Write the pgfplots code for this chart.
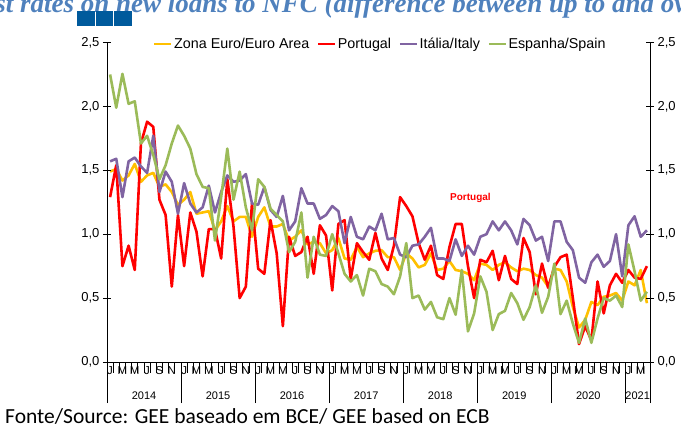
\documentclass[border=0pt]{standalone}
\usepackage{fontspec}
\setmainfont{Liberation Sans}
\newfontfamily\titlefont{Liberation Serif}
\newfontfamily\srcfont{Carlito}
\usepackage{pgfplots}
\pgfplotsset{compat=1.18}
\usepackage{pgfplotstable}

\definecolor{cEA}{RGB}{255,192,0}
\definecolor{cPT}{RGB}{255,0,0}
\definecolor{cIT}{RGB}{128,100,162}
\definecolor{cES}{RGB}{155,187,89}
\definecolor{cTitle}{RGB}{79,129,189}
\definecolor{cSq}{RGB}{0,90,156}

\pgfplotstableread{
i ea pt it es
0 1.49 1.29 1.57 2.25
1 1.51 1.54 1.59 1.99
2 1.42 0.75 1.29 2.255
3 1.46 0.91 1.57 2.02
4 1.55 0.72 1.60 2.04
5 1.41 1.71 1.53 1.71
6 1.46 1.88 1.48 1.77
7 1.48 1.84 1.77 1.62
8 1.37 1.27 1.33 1.43
9 1.39 1.15 1.49 1.54
10 1.33 0.59 1.41 1.71
11 1.23 1.15 1.16 1.85
12 1.27 0.75 1.40 1.77
13 1.33 1.17 1.24 1.67
14 1.16 1.02 1.17 1.47
15 1.17 0.67 1.21 1.37
16 1.18 1.04 1.38 1.36
17 1.03 1.04 1.17 0.95
18 1.10 0.81 1.33 1.29
19 1.22 1.43 1.46 1.67
20 1.10 1.06 1.41 1.27
21 1.135 0.50 1.42 1.49
22 1.135 0.59 1.47 1.21
23 0.98 1.24 1.24 1.03
24 1.135 0.73 1.23 1.43
25 1.21 0.69 1.37 1.37
26 1.06 1.11 1.19 1.20
27 1.06 0.85 1.135 1.15
28 1.08 0.28 1.30 1.10
29 0.95 0.98 1.03 0.86
30 0.98 0.83 1.10 0.94
31 1.03 0.86 1.36 1.17
32 0.92 0.98 1.24 0.66
33 0.94 0.69 1.24 0.98
34 0.93 1.07 1.12 0.84
35 0.85 0.99 1.15 0.83
36 0.875 0.56 1.22 1.00
37 0.97 1.08 1.18 0.85
38 0.81 1.11 0.93 0.69
39 0.80 0.65 1.135 0.63
40 0.90 0.93 0.98 0.68
41 0.82 0.86 0.96 0.52
42 0.85 0.80 1.06 0.73
43 0.87 1.01 1.03 0.71
44 0.875 0.81 1.16 0.61
45 0.82 0.72 0.96 0.59
46 0.82 0.91 0.97 0.53
47 0.72 1.29 0.84 0.67
48 0.85 1.22 0.82 0.93
49 0.81 1.14 0.91 0.50
50 0.74 0.93 0.92 0.52
51 0.76 0.80 0.98 0.41
52 0.85 0.91 1.05 0.47
53 0.72 0.68 0.81 0.35
54 0.73 0.65 0.81 0.335
55 0.79 0.90 0.79 0.50
56 0.72 1.08 0.96 0.37
57 0.71 1.08 0.83 0.72
58 0.69 0.75 0.91 0.24
59 0.64 0.50 0.84 0.38
60 0.77 0.80 0.98 0.67
61 0.76 0.78 1.00 0.55
62 0.72 0.87 1.10 0.25
63 0.76 0.64 1.03 0.375
64 0.78 0.83 1.10 0.40
65 0.74 0.65 1.03 0.54
66 0.71 0.61 0.92 0.46
67 0.73 0.97 1.12 0.33
68 0.72 0.86 1.07 0.43
69 0.68 0.53 0.95 0.60
70 0.66 0.77 0.98 0.385
71 0.59 0.58 0.79 0.51
72 0.73 0.745 1.10 0.77
73 0.72 0.82 1.10 0.375
74 0.63 0.84 0.94 0.48
75 0.43 0.50 0.875 0.30
76 0.27 0.14 0.66 0.15
77 0.33 0.28 0.62 0.34
78 0.47 0.17 0.78 0.15
79 0.445 0.63 0.84 0.34
80 0.51 0.38 0.745 0.50
81 0.52 0.60 0.79 0.48
82 0.54 0.69 1.00 0.52
83 0.48 0.62 0.67 0.43
84 0.63 0.72 1.07 0.92
85 0.60 0.66 1.14 0.71
86 0.72 0.65 0.98 0.48
87 0.46 0.75 1.03 0.55
}\datatable

\begin{document}
\begin{tikzpicture}
\path[use as bounding box] (0pt,0pt) rectangle (681pt,428pt);
\begin{scope}
\clip (0pt,0pt) rectangle (681pt,428pt);
\node[anchor=base west, inner sep=0pt, text=cTitle,
      font=\titlefont\bfseries\itshape\fontsize{27}{30}\selectfont]
      at (-4.8pt,415.6pt) {\llap{Intere}st rates on new loans to NFC (difference between up to and over 1 million euros)};
\end{scope}
\fill[cSq] (77pt,402pt) rectangle (94.5pt,417pt);
\fill[cSq] (95.5pt,402pt) rectangle (113pt,417pt);
\fill[cSq] (114pt,402pt) rectangle (131.5pt,417pt);

% main axis: data, x axis, legend
\begin{axis}[
  at={(107pt,66pt)}, anchor=south west, scale only axis,
  width=543pt, height=319.5pt,
  xmin=-0.5, xmax=87.5, ymin=0, ymax=2.5,
  axis x line*=bottom, axis y line=none,
  axis line style={line width=0.9pt, black},
  tick style={line width=0.8pt, black},
  tick align=outside,
  xtick={-0.5,11.5,23.5,35.5,47.5,59.5,71.5,83.5,87.5},
  xticklabels={},
  major tick length=41pt,
  minor xtick={-0.5,0.5,...,87.5},
  minor tick length=11pt,
  extra x ticks={0,2,...,86},
  extra x tick labels={J,M,M,J,S,N,J,M,M,J,S,N,J,M,M,J,S,N,J,M,M,J,S,N,J,M,M,J,S,N,J,M,M,J,S,N,J,M,M,J,S,N,J,M},
  extra x tick style={major tick length=0pt,
     tick label style={anchor=center, yshift=-8.5pt, inner sep=0pt,
       font=\fontsize{11.5}{12}\selectfont}},
  clip=false,
  legend columns=4,
  legend style={draw=none, fill=none, at={(0.503,0.9953)}, anchor=center,
     font=\fontsize{14.3}{16}\selectfont, inner sep=0pt,
     nodes={inner sep=1.5pt},
     /tikz/every even column/.append style={column sep=6pt}},
  legend image code/.code={\draw[line width=2.5pt] (0pt,0pt) -- (17pt,0pt);},
]
\addplot[cEA, line width=2.6pt, line join=round] table[x=i,y=ea] {\datatable};
\addlegendentry{Zona Euro/Euro Area}
\addplot[cPT, line width=2.6pt, line join=round] table[x=i,y=pt] {\datatable};
\addlegendentry{Portugal}
\addplot[cIT, line width=2.6pt, line join=round] table[x=i,y=it] {\datatable};
\addlegendentry{Itália/Italy}
\addplot[cES, line width=2.6pt, line join=round] table[x=i,y=es] {\datatable};
\addlegendentry{Espanha/Spain}
\node[font=\bfseries\fontsize{10}{12}\selectfont, text=cPT] at (axis cs:58.4,1.28) {Portugal};
\foreach \yx/\yl in {5.5/2014,17.5/2015,29.5/2016,41.5/2017,53.5/2018,65.5/2019,77.5/2020,85.5/2021}{
  \edef\tmp{\noexpand\node[font=\noexpand\fontsize{11}{12}\noexpand\selectfont, anchor=center] at (axis cs:\yx,0) [yshift=-34pt] {\yl};}\tmp
}
\end{axis}

% left y axis
\begin{axis}[
  at={(107pt,66pt)}, anchor=south west, scale only axis,
  width=543pt, height=319.5pt,
  xmin=-0.5, xmax=87.5, ymin=0, ymax=2.5,
  hide x axis, axis y line*=left,
  axis line style={line width=0.9pt, black},
  tick style={line width=0.8pt, black},
  tick align=center, major tick length=8pt,
  ytick={0,0.5,...,2.5},
  yticklabel style={font=\fontsize{13}{14}\selectfont,
    /pgf/number format/.cd, fixed, fixed zerofill, precision=1, use comma, assume math mode=true},
]
\end{axis}

% right y axis
\begin{axis}[
  at={(107pt,66pt)}, anchor=south west, scale only axis,
  width=543pt, height=319.5pt,
  xmin=-0.5, xmax=87.5, ymin=0, ymax=2.5,
  hide x axis, axis y line*=right,
  axis line style={line width=0.9pt, black},
  tick style={line width=0.8pt, black},
  tick align=center, major tick length=8pt,
  ytick={0,0.5,...,2.5},
  yticklabel style={font=\fontsize{13}{14}\selectfont,
    /pgf/number format/.cd, fixed, fixed zerofill, precision=1, use comma, assume math mode=true},
]
\end{axis}

\node[anchor=base west, inner sep=0pt, font=\srcfont\fontsize{21.5}{24}\selectfont] at (5pt,4pt) {Fonte/Source: GEE baseado em BCE/ GEE based on ECB};
\end{tikzpicture}
\end{document}
